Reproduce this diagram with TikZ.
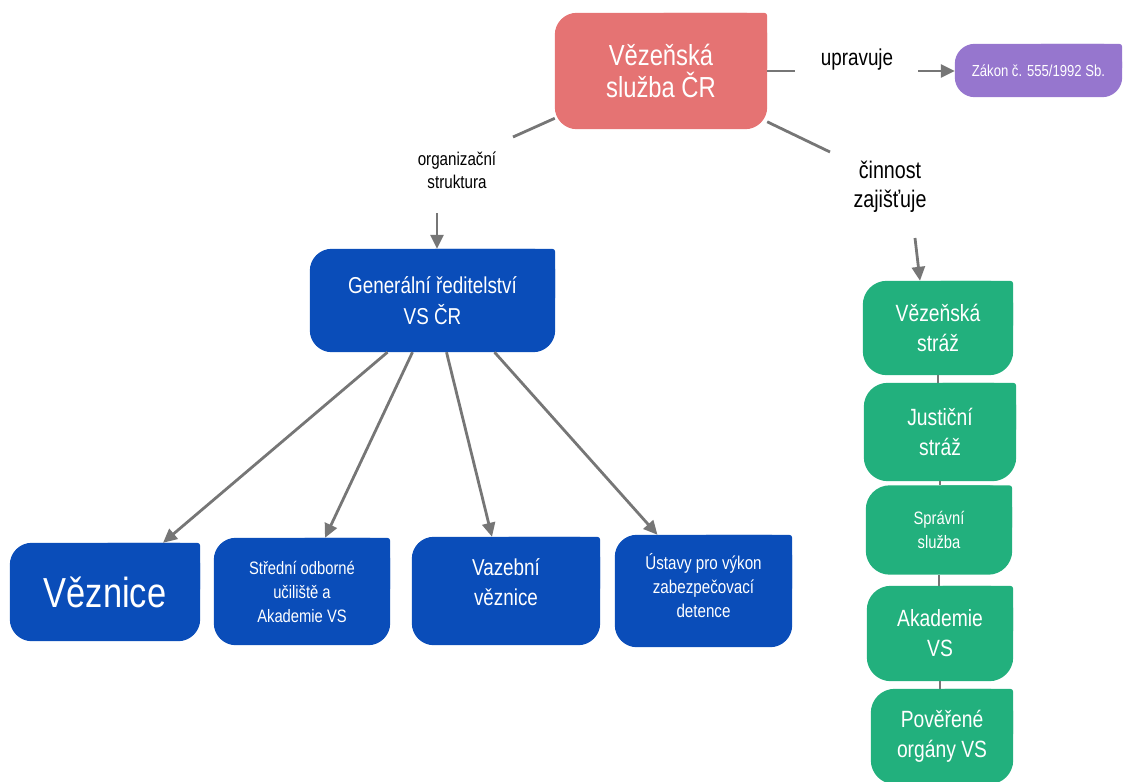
\documentclass[tikz,border=0pt]{standalone}
\usepackage{fontspec}
\setmainfont{Liberation Sans}[FakeStretch=0.82]
\usetikzlibrary{arrows.meta,backgrounds}
\definecolor{cred}{RGB}{229,115,115}
\definecolor{cblue}{RGB}{10,77,185}
\definecolor{cgreen}{RGB}{34,176,125}
\definecolor{cpurple}{RGB}{150,118,206}
\definecolor{cgray}{RGB}{118,118,118}
\tikzset{
  box/.style={inner sep=0pt, align=center, text=white},
  lbl/.style={inner sep=0pt, align=center, text=black},
  conn/.style={draw=cgray, line width=2.8pt},
  arr/.style={conn, -{Triangle[length=14pt,width=13pt]}},
  fs/.style 2 args={font={\fontsize{#1}{#2}\selectfont}}
}
\newcommand\bgshape[3]{%
  \fill[#2, rounded corners=#3] (#1.south west) rectangle (#1.north east);
  \fill[#2, rounded corners=3pt] (#1.center) rectangle (#1.north east);
}
\begin{document}
\begin{tikzpicture}[x=1pt,y=-1pt]
\useasboundingbox (0,0) rectangle (1136,782);
% top
\node[box, minimum width=212pt, minimum height=116pt, fs={29}{32}] (vs) at (661,71) {Vězeňská\\služba ČR};
\node[box, minimum width=167pt, minimum height=53pt, fs={16}{19}] (zak) at (1038.5,70.5) {Zákon č. 555/1992 Sb.};
\node[lbl, fs={23}{28}] (upr) at (857,60) {upravuje};
\node[lbl, fs={18.5}{23}] (org) at (457,170) {organizační\\struktura};
\node[lbl, fs={24}{29}] (cin) at (890,187) {činnost\\zajišťuje};
% general directorate
\node[box, minimum width=245pt, minimum height=103pt, fs={23}{31}] (gr) at (432.5,300.5) {Generální ředitelství\\VS ČR};
% bottom blue
\node[box, minimum width=190pt, minimum height=98pt, fs={42}{46}] (vez) at (105,592) {Věznice};
\node[box, minimum width=176pt, minimum height=107pt, fs={18}{24}] (str) at (302,591.5) {Střední odborné\\učiliště a\\Akademie VS};
\node[box, minimum width=188pt, minimum height=108pt, fs={23}{30}, text depth=17pt] (vaz) at (506,591) {Vazební\\věznice};
\node[box, minimum width=177pt, minimum height=112pt, fs={18.5}{24}, text depth=11pt] (ust) at (703.5,591) {Ústavy pro výkon\\zabezpečovací\\detence};
% green chain
\node[box, minimum width=150pt, minimum height=94pt, fs={23.5}{30}] (g1) at (938,328) {Vězeňská\\stráž};
\node[box, minimum width=152pt, minimum height=98pt, fs={23.5}{30}] (g2) at (940,432) {Justiční\\stráž};
\node[box, minimum width=146pt, minimum height=89pt, fs={18}{24}] (g3) at (939,530) {Správní\\služba};
\node[box, minimum width=146pt, minimum height=95pt, fs={23.5}{30}] (g4) at (940,633.5) {Akademie\\VS};
\node[box, minimum width=142pt, minimum height=95pt, fs={23.5}{30}] (g5) at (942,736.5) {Pověřené\\orgány VS};
\begin{scope}[on background layer]
  \bgshape{vs}{cred}{22pt}
  \bgshape{zak}{cpurple}{20pt}
  \bgshape{gr}{cblue}{22pt}
  \bgshape{vez}{cblue}{22pt}
  \bgshape{str}{cblue}{22pt}
  \bgshape{vaz}{cblue}{22pt}
  \bgshape{ust}{cblue}{22pt}
  \bgshape{g1}{cgreen}{24pt}
  \bgshape{g2}{cgreen}{24pt}
  \bgshape{g3}{cgreen}{24pt}
  \bgshape{g4}{cgreen}{24pt}
  \bgshape{g5}{cgreen}{24pt}
\end{scope}
% connectors
\coordinate (u1) at (795,71);
\coordinate (u2) at (918,71);
\coordinate (o1) at (513,137);
\coordinate (o2) at (437,213);
\coordinate (c1) at (830,152);
\coordinate (c2) at (915,238);
\draw[conn] (vs) -- (u1);
\draw[arr] (u2) -- (zak.west |- u2);
\draw[conn] (vs) -- (o1);
\draw[arr] (o2) -- (o2 |- gr.north);
\draw[conn] (vs) -- (c1);
\draw[arr] (c2) -- ([xshift=-18pt]g1.north);
\draw[arr] ([xshift=-45pt]gr.south) -- ([xshift=58pt]vez.north);
\draw[arr] ([xshift=-20pt]gr.south) -- ([xshift=23pt]str.north);
\draw[arr] ([xshift=14pt]gr.south) -- ([xshift=-14pt]vaz.north);
\draw[arr] ([xshift=62pt]gr.south) -- ([xshift=-46pt]ust.north);
\draw[conn, line width=2pt] (g1.south) -- (g1.south |- g2.north);
\draw[conn, line width=2pt] (g2.south) -- (g2.south |- g3.north);
\draw[conn, line width=2pt] (g3.south) -- (g3.south |- g4.north);
\draw[conn, line width=2pt] (g4.south) -- (g4.south |- g5.north);
\end{tikzpicture}
\end{document}
